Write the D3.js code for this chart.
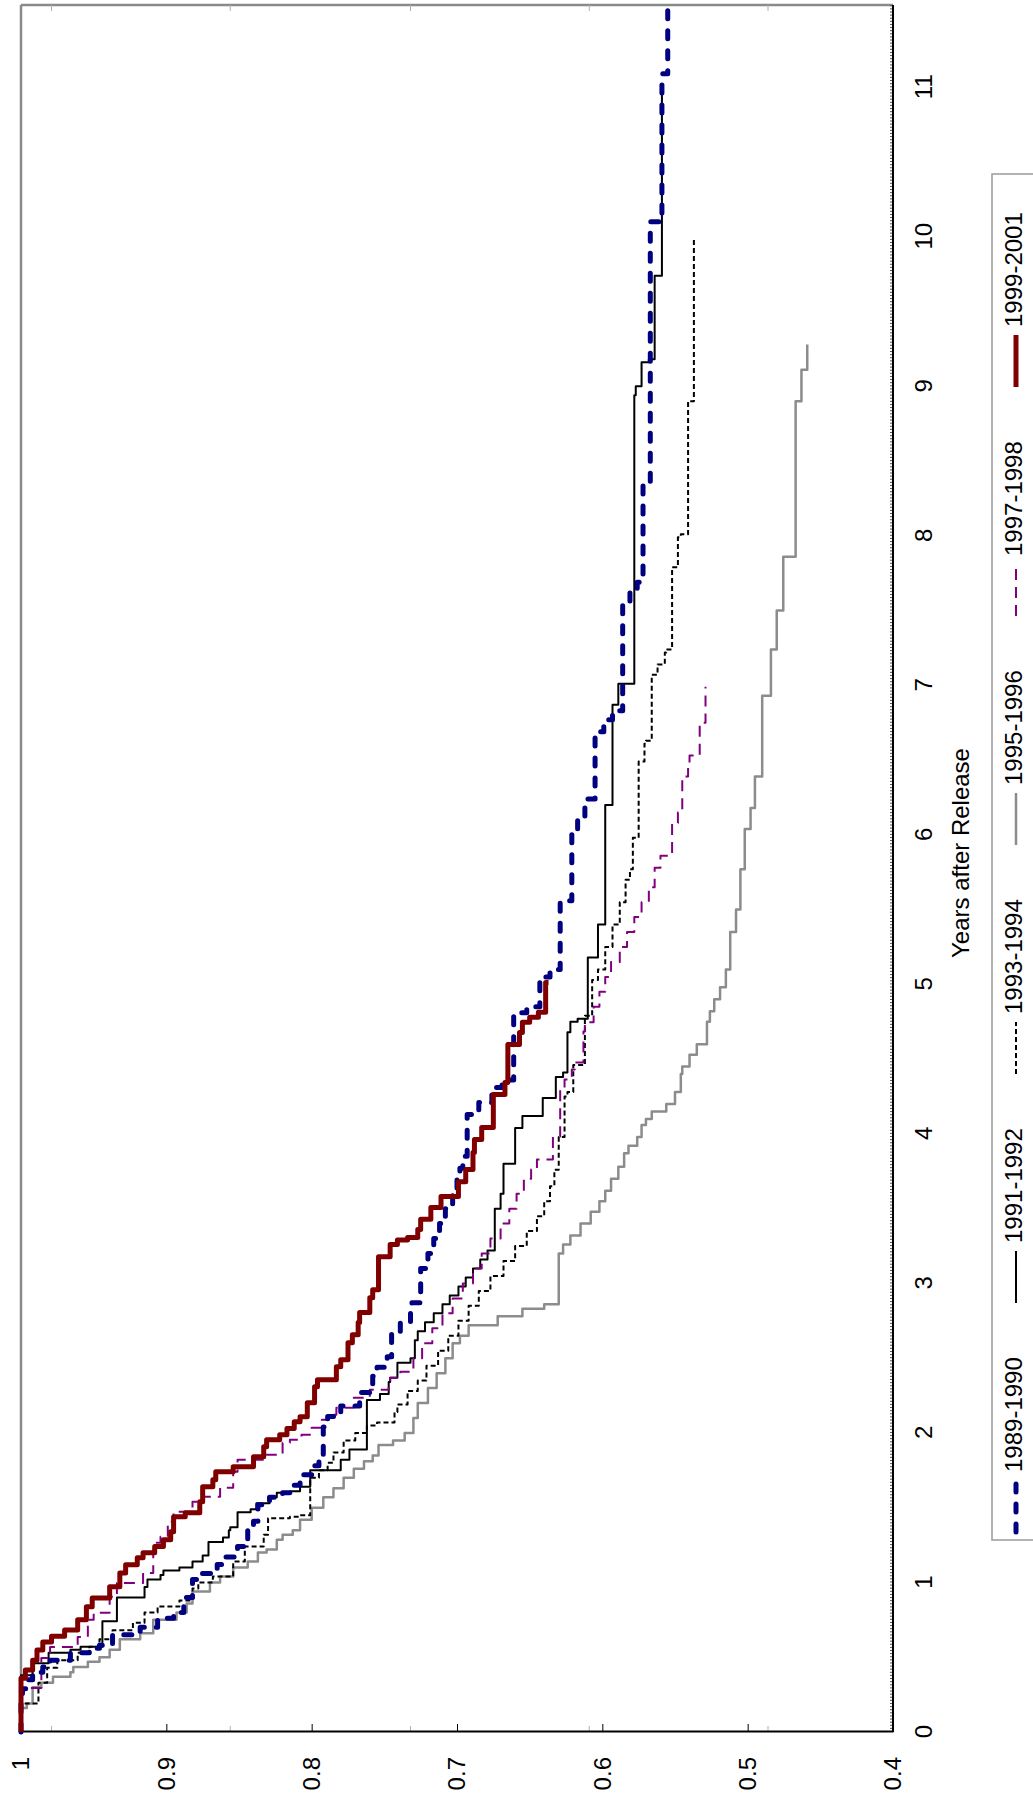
<!DOCTYPE html>
<html>
<head>
<meta charset="utf-8">
<script src="https://cdn.jsdelivr.net/npm/d3@7"></script>
<style>
  body { margin: 0; background: #fff; }
  svg { display: block; }
  text { font-family: "Liberation Sans", Arial, sans-serif; fill: #000; }
</style>
</head>
<body>
<svg id="chart" width="1033" height="1796"></svg>
<script>
// Share of releases still in use, by years after release (Kaplan–Meier style steps).
// Each entry: [years after release, surviving share]
const s1989 = [[0,1],[0.19,1],[0.23,0.999],[0.29,0.995],[0.35,0.992],[0.40,0.985],[0.435,0.980],[0.48,0.966],[0.53,0.953],[0.56,0.946],[0.58,0.937],[0.65,0.918],[0.70,0.906],[0.76,0.895],[0.80,0.888],[0.90,0.882],[1.02,0.877],[1.06,0.865],[1.12,0.860],[1.17,0.851],[1.24,0.844],[1.37,0.840],[1.41,0.837],[1.52,0.829],[1.57,0.820],[1.60,0.815],[1.65,0.808],[1.72,0.800],[1.78,0.795],[1.83,0.792],[2.04,0.789],[2.11,0.780],[2.18,0.767],[2.27,0.758],[2.38,0.755],[2.44,0.748],[2.51,0.745],[2.68,0.739],[2.74,0.732],[2.84,0.731],[2.87,0.725],[3.10,0.720],[3.20,0.716],[3.30,0.712],[3.40,0.708],[3.50,0.703],[3.60,0.700],[3.70,0.698],[3.77,0.696],[3.85,0.693],[4.13,0.685],[4.21,0.676],[4.31,0.669],[4.36,0.661],[4.81,0.652],[4.85,0.643],[5.05,0.636],[5.10,0.629],[5.56,0.621],[6.00,0.617],[6.12,0.612],[6.24,0.605],[6.69,0.599],[6.77,0.593],[6.83,0.586],[7.56,0.581],[7.63,0.576],[7.69,0.572],[8.34,0.567],[10.10,0.559],[11.09,0.555],[11.56,0.555]];

const s1991 = [[0,1],[0.30,1],[0.38,0.992],[0.46,0.981],[0.53,0.966],[0.55,0.959],[0.57,0.944],[0.74,0.934],[0.90,0.915],[0.97,0.913],[1.02,0.904],[1.05,0.902],[1.08,0.891],[1.10,0.882],[1.14,0.875],[1.18,0.871],[1.27,0.861],[1.30,0.857],[1.35,0.856],[1.37,0.851],[1.47,0.842],[1.49,0.838],[1.53,0.829],[1.57,0.824],[1.60,0.815],[1.61,0.808],[1.64,0.801],[1.75,0.780],[1.82,0.774],[1.89,0.762],[2.22,0.753],[2.26,0.747],[2.34,0.746],[2.37,0.741],[2.47,0.732],[2.50,0.729],[2.62,0.727],[2.68,0.722],[2.74,0.716],[2.80,0.710],[2.86,0.705],[2.92,0.699],[2.98,0.694],[3.04,0.689],[3.10,0.684],[3.16,0.679],[3.22,0.674],[3.50,0.670],[3.60,0.668],[3.80,0.660],[4.04,0.655],[4.12,0.641],[4.24,0.632],[4.38,0.627],[4.41,0.624],[4.68,0.622],[4.75,0.617],[4.77,0.610],[5.18,0.603],[5.40,0.598],[6.20,0.593],[6.87,0.589],[7.01,0.578],[8.94,0.577],[9.00,0.573],[9.16,0.568],[9.18,0.564],[9.74,0.559],[11.00,0.559]];

const s1993 = [[0,1],[0.11,1],[0.19,0.988],[0.33,0.982],[0.43,0.975],[0.48,0.961],[0.53,0.953],[0.57,0.946],[0.62,0.937],[0.68,0.923],[0.73,0.915],[0.80,0.906],[0.84,0.891],[0.88,0.882],[0.96,0.878],[1.00,0.868],[1.04,0.854],[1.14,0.846],[1.24,0.833],[1.32,0.830],[1.43,0.815],[1.44,0.808],[1.45,0.801],[1.70,0.795],[1.75,0.789],[1.80,0.785],[1.87,0.778],[1.95,0.770],[2.00,0.762],[2.05,0.755],[2.07,0.743],[2.14,0.741],[2.19,0.734],[2.28,0.727],[2.35,0.721],[2.45,0.713],[2.55,0.706],[2.65,0.699],[2.75,0.692],[2.85,0.685],[2.95,0.677],[3.05,0.668],[3.15,0.660],[3.25,0.652],[3.35,0.645],[3.45,0.640],[3.55,0.636],[3.65,0.633],[3.76,0.630],[3.98,0.626],[4.25,0.624],[4.28,0.620],[4.46,0.612],[4.79,0.607],[5.03,0.603],[5.10,0.598],[5.25,0.593],[5.40,0.588],[5.55,0.584],[5.70,0.581],[5.77,0.579],[5.98,0.575],[6.49,0.571],[6.61,0.570],[6.63,0.566],[7.07,0.562],[7.14,0.557],[7.22,0.556],[7.24,0.552],[7.79,0.548],[7.99,0.546],[8.01,0.541],[8.90,0.537],[9.99,0.537]];

const s1995 = [[0,1],[0.10,1],[0.16,0.996],[0.19,0.992],[0.30,0.986],[0.33,0.978],[0.37,0.966],[0.40,0.964],[0.435,0.954],[0.47,0.946],[0.50,0.939],[0.55,0.932],[0.62,0.918],[0.66,0.909],[0.75,0.893],[0.80,0.886],[0.86,0.882],[0.94,0.870],[1.00,0.863],[1.04,0.854],[1.10,0.844],[1.14,0.837],[1.20,0.831],[1.22,0.824],[1.285,0.820],[1.32,0.813],[1.35,0.808],[1.42,0.800],[1.50,0.792],[1.57,0.785],[1.63,0.778],[1.70,0.771],[1.76,0.764],[1.81,0.758],[1.85,0.754],[1.92,0.744],[1.95,0.736],[2.00,0.730],[2.10,0.727],[2.20,0.720],[2.30,0.714],[2.40,0.708],[2.50,0.703],[2.60,0.698],[2.65,0.692],[2.72,0.672],[2.78,0.655],[2.83,0.640],[2.86,0.630],[3.20,0.627],[3.26,0.622],[3.32,0.615],[3.40,0.608],[3.48,0.602],[3.55,0.598],[3.62,0.594],[3.70,0.589],[3.78,0.585],[3.87,0.582],[3.92,0.576],[3.98,0.573],[4.06,0.570],[4.10,0.566],[4.15,0.556],[4.20,0.550],[4.28,0.546],[4.40,0.545],[4.45,0.540],[4.53,0.535],[4.60,0.528],[4.75,0.526],[4.82,0.523],[4.90,0.519],[4.98,0.515],[5.10,0.512],[5.35,0.508],[5.50,0.505],[5.77,0.502],[6.04,0.498],[6.18,0.495],[6.39,0.490],[6.93,0.484],[7.24,0.480],[7.50,0.4755],[7.86,0.467],[8.90,0.463],[9.11,0.459],[9.28,0.459]];

const s1997 = [[0,1],[0.248,1],[0.295,0.986],[0.495,0.980],[0.569,0.961],[0.636,0.954],[0.750,0.950],[0.797,0.939],[0.904,0.934],[0.997,0.916],[1.064,0.909],[1.218,0.908],[1.265,0.904],[1.305,0.899],[1.406,0.895],[1.473,0.882],[1.540,0.875],[1.573,0.863],[1.633,0.854],[1.740,0.851],[1.821,0.831],[1.854,0.820],[1.934,0.815],[1.954,0.807],[1.988,0.800],[2.035,0.793],[2.088,0.789],[2.122,0.783],[2.169,0.771],[2.236,0.760],[2.289,0.747],[2.336,0.746],[2.369,0.739],[2.410,0.730],[2.50,0.724],[2.60,0.717],[2.70,0.710],[2.80,0.703],[2.90,0.696],[3.00,0.689],[3.10,0.683],[3.20,0.677],[3.30,0.670],[3.40,0.664],[3.50,0.659],[3.60,0.654],[3.70,0.649],[3.762,0.645],[3.829,0.634],[3.983,0.629],[4.297,0.626],[4.364,0.621],[4.431,0.619],[4.478,0.613],[4.685,0.612],[4.746,0.606],[4.85,0.602],[4.95,0.598],[5.05,0.594],[5.15,0.588],[5.25,0.583],[5.35,0.578],[5.45,0.573],[5.55,0.568],[5.65,0.564],[5.78,0.560],[5.86,0.552],[6.08,0.548],[6.15,0.545],[6.39,0.541],[6.46,0.540],[6.53,0.533],[6.75,0.529],[6.99,0.529]];

const s1999 = [[0,1],[0.31,1],[0.36,0.997],[0.415,0.992],[0.48,0.989],[0.549,0.985],[0.602,0.979],[0.64,0.970],[0.683,0.961],[0.750,0.955],[0.837,0.951],[0.897,0.939],[0.971,0.932],[1.064,0.928],[1.118,0.920],[1.165,0.916],[1.198,0.908],[1.24,0.902],[1.285,0.897],[1.339,0.895],[1.439,0.887],[1.466,0.877],[1.540,0.875],[1.640,0.868],[1.687,0.866],[1.740,0.854],[1.774,0.840],[1.841,0.833],[1.908,0.831],[1.954,0.822],[1.988,0.817],[2.03,0.812],[2.075,0.808],[2.108,0.803],[2.202,0.798],[2.309,0.796],[2.356,0.783],[2.443,0.780],[2.490,0.775],[2.604,0.772],[2.657,0.768],[2.738,0.767],[2.805,0.760],[2.905,0.758],[2.958,0.754],[3.179,0.746],[3.260,0.741],[3.29,0.734],[3.307,0.727],[3.360,0.725],[3.430,0.718],[3.507,0.711],[3.581,0.699],[3.680,0.694],[3.762,0.689],[3.876,0.688],[3.962,0.683],[4.043,0.675],[4.264,0.667],[4.344,0.665],[4.598,0.657],[4.679,0.655],[4.746,0.650],[4.78,0.644],[4.813,0.639],[5.013,0.637]];

const seriesNames = ["1989-1990", "1991-1992", "1993-1994", "1995-1996", "1997-1998", "1999-2001"];
const seriesValues = [s1989, s1991, s1993, s1995, s1997, s1999];
const yearTicks = [0, 1, 2, 3, 4, 5, 6, 7, 8, 9, 10, 11];
const shareTicks = [1, 0.9, 0.8, 0.7, 0.6, 0.5, 0.4];
const shareTickLabels = ["1", "0.9", "0.8", "0.7", "0.6", "0.5", "0.4"];
const faintTicks = [0.979, 0.856, 0.732, 0.609, 0.486];

// line styles per series
const styles = {
  "1989-1990": { color: "#000080", width: 5, dash: "8,12", cap: "round" },
  "1991-1992": { color: "#000000", width: 2, dash: null, cap: "butt" },
  "1993-1994": { color: "#000000", width: 2, dash: "5,3", cap: "butt" },
  "1995-1996": { color: "#8c8c8c", width: 2.5, dash: null, cap: "butt" },
  "1997-1998": { color: "#800080", width: 2, dash: "11,7", cap: "butt" },
  "1999-2001": { color: "#800000", width: 5, dash: null, cap: "butt" }
};
const drawOrder = ["1995-1996", "1993-1994", "1991-1992", "1997-1998", "1989-1990", "1999-2001"];

// The chart is laid out landscape (LW x LH) and turned a quarter turn counter-clockwise.
const LW = 1796, LH = 1033;
const FONT = 24;
const svg = d3.select("#chart");
const g = svg.append("g").attr("transform", `translate(0,${LW}) rotate(-90)`);

const plot = { left: 64, right: 1791, top: 21, bottom: 893 };
const x = d3.scaleLinear().domain([0, 11.55]).range([plot.left, plot.right]);
const y = d3.scaleLinear().domain([0.4, 1]).range([plot.bottom, plot.top]);

// frame: grey on the open sides
g.append("line").attr("x1", plot.left).attr("x2", plot.right).attr("y1", plot.top).attr("y2", plot.top)
  .attr("stroke", "#8a8a8a").attr("stroke-width", 2.5);
g.append("line").attr("x1", plot.right).attr("x2", plot.right).attr("y1", plot.top).attr("y2", plot.bottom)
  .attr("stroke", "#8a8a8a").attr("stroke-width", 2.5);

// faint secondary ticks on left axis and right frame
faintTicks.forEach(v => {
  g.append("line").attr("x1", plot.left).attr("x2", plot.left + 6).attr("y1", y(v)).attr("y2", y(v))
    .attr("stroke", "#b0b0b0").attr("stroke-width", 1);
  g.append("line").attr("x1", plot.right - 6).attr("x2", plot.right).attr("y1", y(v)).attr("y2", y(v))
    .attr("stroke", "#b0b0b0").attr("stroke-width", 1);
});

// year axis: dense minor ticks pointing into the plot
const minorTicks = d3.range(0, 11.55, 1 / 48);
const xMinor = d3.axisBottom(x).tickValues(minorTicks).tickSizeInner(-3).tickSizeOuter(0).tickFormat("");
const xMinorG = g.append("g").attr("transform", `translate(0,${plot.bottom})`).call(xMinor);
xMinorG.select(".domain").remove();
xMinorG.selectAll(".tick line").attr("stroke", "#555").attr("stroke-width", 1);

const xAxis = d3.axisBottom(x).tickValues(yearTicks).tickSize(0).tickPadding(22).tickFormat(d3.format("d"));
const xAxisG = g.append("g").attr("transform", `translate(0,${plot.bottom})`).call(xAxis);
xAxisG.select(".domain").attr("stroke", "#000").attr("stroke-width", 2).attr("d", `M${plot.left},0H${plot.right}`);
xAxisG.selectAll(".tick text").attr("font-size", FONT).style("font-family", "Liberation Sans, Arial, sans-serif");

// share axis
const yAxis = d3.axisLeft(y).tickValues(shareTicks).tickSizeInner(-8).tickSizeOuter(0).tickPadding(25)
  .tickFormat((d, i) => shareTickLabels[i]);
const yAxisG = g.append("g").attr("transform", `translate(${plot.left},0)`).call(yAxis);
yAxisG.select(".domain").attr("stroke", "#000").attr("stroke-width", 2);
yAxisG.selectAll(".tick line").attr("stroke", "#000").attr("stroke-width", 1);
yAxisG.selectAll(".tick text").attr("font-size", FONT).style("font-family", "Liberation Sans, Arial, sans-serif");

// axis title
g.append("text").attr("x", 943).attr("y", 963).attr("text-anchor", "middle")
  .attr("dominant-baseline", "middle").attr("font-size", FONT).text("Years after Release");

// curves
const line = d3.line().x(d => x(d[0])).y(d => y(d[1])).curve(d3.curveStepAfter);
const curves = g.append("g");
drawOrder.forEach(name => {
  const st = styles[name];
  const data = seriesValues[seriesNames.indexOf(name)];
  curves.append("path").datum(data).attr("d", line)
    .attr("fill", "none").attr("stroke", st.color).attr("stroke-width", st.width)
    .attr("stroke-dasharray", st.dash).attr("stroke-linecap", st.cap).attr("stroke-linejoin", "round");
});

// legend
const legend = g.append("g");
legend.append("rect").attr("x", 256).attr("y", 992).attr("width", 1366).attr("height", 70)
  .attr("fill", "#fff").attr("stroke", "#9a9a9a").attr("stroke-width", 1.5);
const legendX = d3.scalePoint().domain(seriesNames).range([264, 1409]);
seriesNames.forEach(name => {
  const st = styles[name];
  const lx = legendX(name);
  legend.append("line").attr("x1", lx).attr("x2", lx + 52).attr("y1", 1016).attr("y2", 1016)
    .attr("stroke", st.color).attr("stroke-width", st.width)
    .attr("stroke-dasharray", st.dash).attr("stroke-linecap", st.cap);
  legend.append("text").attr("x", lx + 60).attr("y", 1016).attr("dominant-baseline", "middle")
    .attr("font-size", FONT).text(name);
});
</script>
</body>
</html>
